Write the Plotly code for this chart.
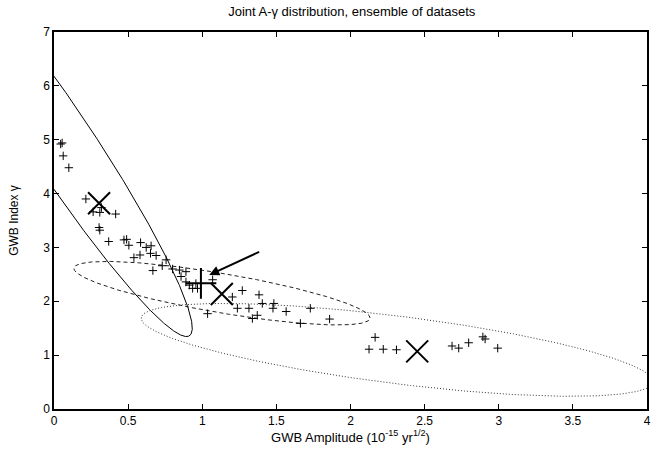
import numpy as np
import plotly.graph_objects as go

# ---- data: ensemble of dataset estimates (A, gamma) ----
amp = [0.045, 0.055, 0.062, 0.10, 0.215, 0.264, 0.309, 0.32, 0.416, 0.304, 0.309,
       0.369, 0.472, 0.49, 0.505, 0.584, 0.622, 0.655, 0.651, 0.689, 0.539, 0.58,
       0.667, 0.73, 0.756, 0.80, 0.846, 0.89, 0.857, 0.89, 0.913, 0.935, 0.957, 0.968,
       1.07, 1.27, 1.383, 1.405, 1.483, 1.477, 1.203, 1.237, 1.315, 1.566, 1.729,
       1.036, 1.338, 1.371, 1.662, 1.859, 2.166, 2.125, 2.221, 2.31, 2.685, 2.73,
       2.797, 2.893, 2.908, 2.993]
gam = [4.92, 4.94, 4.70, 4.48, 3.90, 3.66, 3.65, 3.74, 3.62, 3.37, 3.32,
       3.11, 3.14, 3.15, 3.04, 3.09, 3.00, 3.03, 2.89, 2.85, 2.81, 2.86,
       2.57, 2.66, 2.77, 2.60, 2.58, 2.55, 2.46, 2.36, 2.30, 2.24, 2.33, 2.24,
       2.40, 2.20, 2.12, 1.96, 1.96, 1.87, 2.08, 1.87, 1.87, 1.81, 1.87,
       1.77, 1.68, 1.74, 1.59, 1.67, 1.33, 1.11, 1.11, 1.10, 1.17, 1.13,
       1.23, 1.34, 1.30, 1.13]

# big X markers (ensemble means) and big plus
bigx_amp = [0.304, 1.132, 2.45]
bigx_gam = [3.82, 2.135, 1.07]
plus_amp = [0.991]
plus_gam = [2.334]

# arrow: tail and head (data coords)
arrow_tail = [1.394, 2.93]
arrow_head = [1.047, 2.49]

# ellipse parameters: x = cx + ax cos t + bx sin t ; y = cy + ay cos t + by sin t
ell_cx = [0.048, 1.133, 2.315]
ell_cy = [4.945, 2.15, 1.098]
ell_ax = [-0.846, 0.999, 1.727]
ell_bx = [0.259, 0.0, 0.0]
ell_ay = [3.6, -0.46, -0.587]
ell_by = [0.0, 0.37, 0.632]
ell_dash = ["solid", "4px,3px", "1px,2px"]
ell_color = ["#000000", "#222222", "#333333"]

xticks = [0, 0.5, 1, 1.5, 2, 2.5, 3, 3.5, 4]
yticks = [0, 1, 2, 3, 4, 5, 6, 7]

fig = go.Figure()

t = np.linspace(0, 2 * np.pi, 721)
for i in range(3):
    ex = ell_cx[i] + ell_ax[i] * np.cos(t) + ell_bx[i] * np.sin(t)
    ey = ell_cy[i] + ell_ay[i] * np.cos(t) + ell_by[i] * np.sin(t)
    fig.add_trace(go.Scatter(x=ex, y=ey, mode="lines",
                             line=dict(color=ell_color[i], width=1, dash=ell_dash[i]),
                             hoverinfo="skip", showlegend=False))

fig.add_trace(go.Scatter(x=amp, y=gam, mode="markers",
                         marker=dict(symbol="cross-thin", size=6,
                                     line=dict(color="black", width=1)),
                         showlegend=False, cliponaxis=True))
fig.add_trace(go.Scatter(x=bigx_amp, y=bigx_gam, mode="markers",
                         marker=dict(symbol="x-thin", size=22,
                                     line=dict(color="black", width=2)),
                         showlegend=False))
fig.add_trace(go.Scatter(x=plus_amp, y=plus_gam, mode="markers",
                         marker=dict(symbol="cross-thin", size=22,
                                     line=dict(color="black", width=2)),
                         showlegend=False))

fig.add_annotation(x=arrow_head[0], y=arrow_head[1], ax=arrow_tail[0], ay=arrow_tail[1],
                   xref="x", yref="y", axref="x", ayref="y", showarrow=True,
                   arrowhead=2, arrowsize=1, arrowwidth=2, arrowcolor="black", text="")

font = dict(family="Liberation Sans, Arial, sans-serif", size=12, color="black")
axis_common = dict(showline=True, linecolor="black", linewidth=1.5, mirror="ticks",
                   ticks="inside", ticklen=5, tickwidth=1, tickcolor="black",
                   showgrid=False, zeroline=False, tickfont=font)

fig.update_layout(
    width=655, height=451,
    margin=dict(l=54, r=4, t=32, b=42),
    paper_bgcolor="white", plot_bgcolor="white",
    font=font,
    title=dict(text="Joint A-γ distribution, ensemble of datasets", x=0.537, xanchor="center",
               y=0.975, yanchor="middle",
               font=dict(family="Liberation Sans, Arial, sans-serif", size=13, color="black")),
    xaxis=dict(range=[0, 4], tickvals=xticks, ticktext=[f"{v:g}" for v in xticks],
               title=dict(text="GWB Amplitude (10<sup>-15</sup> yr<sup>1/2</sup>)", standoff=5,
                          font=dict(family="Liberation Sans, Arial, sans-serif", size=13, color="black")),
               **axis_common),
    yaxis=dict(range=[0, 7], tickvals=yticks,
               title=dict(text="GWB Index γ", standoff=22, font=font),
               **axis_common),
)

fig.write_html("out.html")
